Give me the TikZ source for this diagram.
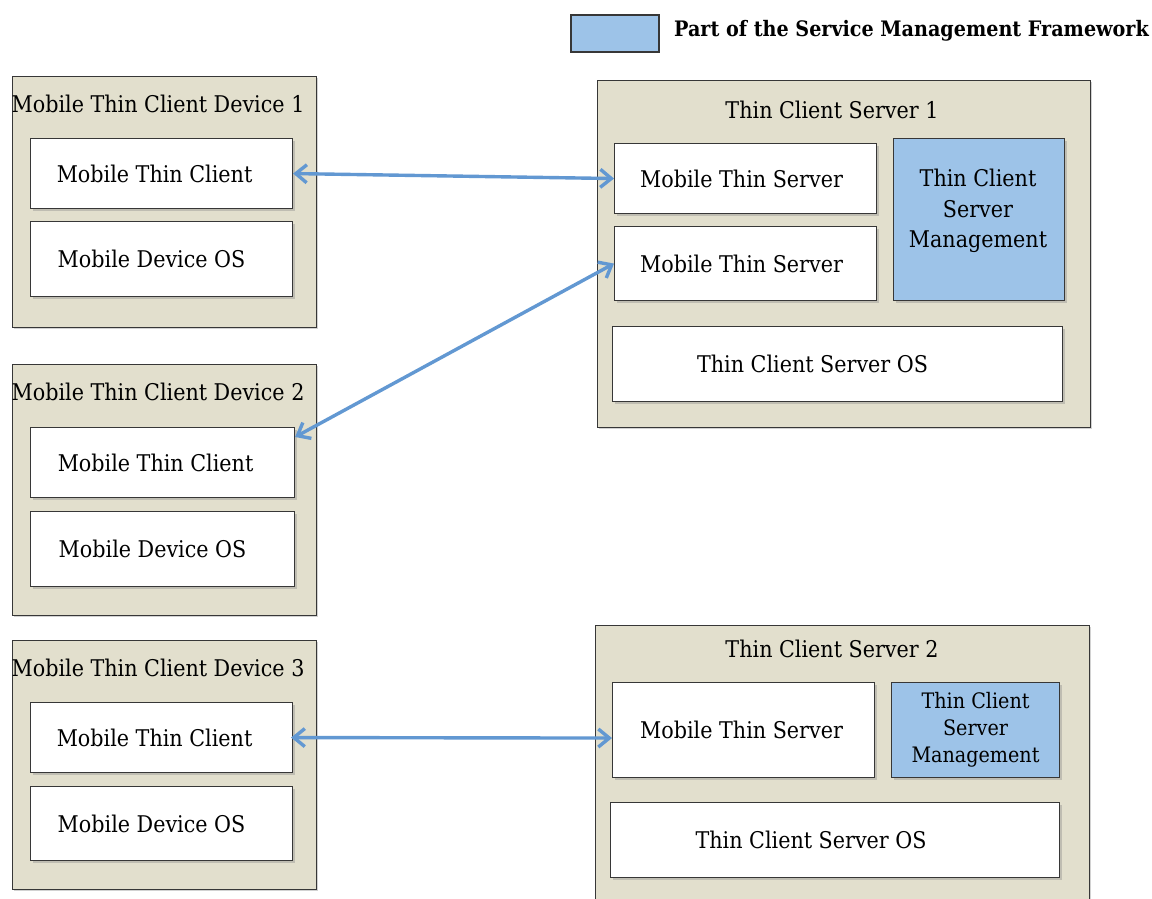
\documentclass[tikz,border=0pt]{standalone}
\usepackage{fontspec}
\setmainfont{DejaVu Serif Condensed}
\usetikzlibrary{arrows.meta,shadows}

\definecolor{beige}{RGB}{226,223,205}
\definecolor{mgmtblue}{RGB}{157,195,232}
\definecolor{linkblue}{RGB}{98,152,210}
\definecolor{edge}{RGB}{55,55,55}

\tikzset{
  outerbox/.style={draw=edge, fill=beige, line width=1.3pt, anchor=north west,
    inner sep=0pt, drop shadow={shadow xshift=1.5pt, shadow yshift=-1.5pt, opacity=.35}},
  layerbox/.style={draw=edge, fill=white, line width=1.1pt, anchor=north west,
    inner sep=0pt, align=center, font=\fontsize{23}{30}\selectfont,
    drop shadow={shadow xshift=2pt, shadow yshift=-2pt, opacity=.35}},
  mgmtbox/.style={layerbox, fill=mgmtblue},
  % pushes the label of a box to the left by half the given amount
  nudge/.style={execute at end node={\hspace*{#1}}},
  boxtitle/.style={inner sep=0pt, font=\fontsize{23}{30}\selectfont},
  mgmttext/.style={inner sep=0pt, align=center},
  link/.style={draw=linkblue, line width=3.4pt,
    {Straight Barb[length=11pt,width=18pt]}-{Straight Barb[length=11pt,width=18pt]}},
}

\begin{document}
\begin{tikzpicture}[x=1pt,y=-1pt]
\clip (0,0) rectangle (1152,898);
\fill[white] (0,0) rectangle (1152,898);

% legend
\node[draw=edge, fill=mgmtblue, line width=1.8pt, anchor=north west, inner sep=0pt,
  minimum width=88pt, minimum height=37pt] (legendbox) at (570,14) {};
\node[anchor=west, inner sep=0pt, font=\fontsize{21.3}{30}\selectfont\bfseries]
  (legendtext) at (674,31) {Part of the Service Management Framework};

% mobile thin client devices
\node[outerbox, minimum width=304pt, minimum height=251pt] (dev1) at (12,76) {};
\node[boxtitle] (dev1t) at (158,104) {Mobile Thin Client Device 1};
\node[layerbox, nudge=14pt, minimum width=262pt, minimum height=70pt] (mtc1) at (30,138) {Mobile Thin Client};
\node[layerbox, nudge=20pt, minimum width=262pt, minimum height=75pt] (os1) at (30,221) {Mobile Device OS};

\node[outerbox, minimum width=304pt, minimum height=251pt] (dev2) at (12,364) {};
\node[boxtitle] (dev2t) at (158,392) {Mobile Thin Client Device 2};
\node[layerbox, nudge=14pt, minimum width=264pt, minimum height=70pt] (mtc2) at (30,427) {Mobile Thin Client};
\node[layerbox, nudge=20pt, minimum width=264pt, minimum height=75pt] (os2) at (30,511) {Mobile Device OS};

\node[outerbox, minimum width=304pt, minimum height=249pt] (dev3) at (12,640) {};
\node[boxtitle] (dev3t) at (158,668) {Mobile Thin Client Device 3};
\node[layerbox, nudge=14pt, minimum width=262pt, minimum height=70pt] (mtc3) at (30,702) {Mobile Thin Client};
\node[layerbox, nudge=20pt, minimum width=262pt, minimum height=74pt] (os3) at (30,786) {Mobile Device OS};

% thin client server 1
\node[outerbox, minimum width=493pt, minimum height=347pt] (srv1) at (597,80) {};
\node[boxtitle] (srv1t) at (832,110) {Thin Client Server 1};
\node[layerbox, nudge=8pt, minimum width=262pt, minimum height=70pt] (mts1) at (614,143) {Mobile Thin Server};
\node[layerbox, nudge=8pt, minimum width=262pt, minimum height=74pt] (mts2) at (614,226) {Mobile Thin Server};
\node[mgmtbox, minimum width=171pt, minimum height=162pt] (mgmt1) at (893,138) {};
\node[mgmttext, font=\fontsize{23}{30.5}\selectfont] (mgmt1t) at (978,211)
  {Thin Client\\Server\\Management};
\node[layerbox, nudge=50pt, minimum width=450pt, minimum height=75pt] (sos1) at (612,326) {Thin Client Server OS};

% thin client server 2
\node[outerbox, minimum width=494pt, minimum height=290pt] (srv2) at (595,625) {};
\node[boxtitle] (srv2t) at (832,649) {Thin Client Server 2};
\node[layerbox, nudge=4pt, minimum width=262pt, minimum height=95pt] (mts3) at (612,682) {Mobile Thin Server};
\node[mgmtbox, minimum width=168pt, minimum height=95pt,
  font=\fontsize{21.3}{27}\selectfont] (mgmt2) at (891,682) {Thin Client\\Server\\Management};
\node[layerbox, nudge=48pt, minimum width=449pt, minimum height=75pt] (sos2) at (610,802) {Thin Client Server OS};

% connections between clients and servers
\draw[link] (mtc1.east) -- (mts1.west);
\draw[link] ([yshift=-10pt]mtc2.north east) -- (mts2.west);
\draw[link] ([xshift=-2pt]mtc3.east) -- ([yshift=-8pt]mts3.west);
\end{tikzpicture}
\end{document}
